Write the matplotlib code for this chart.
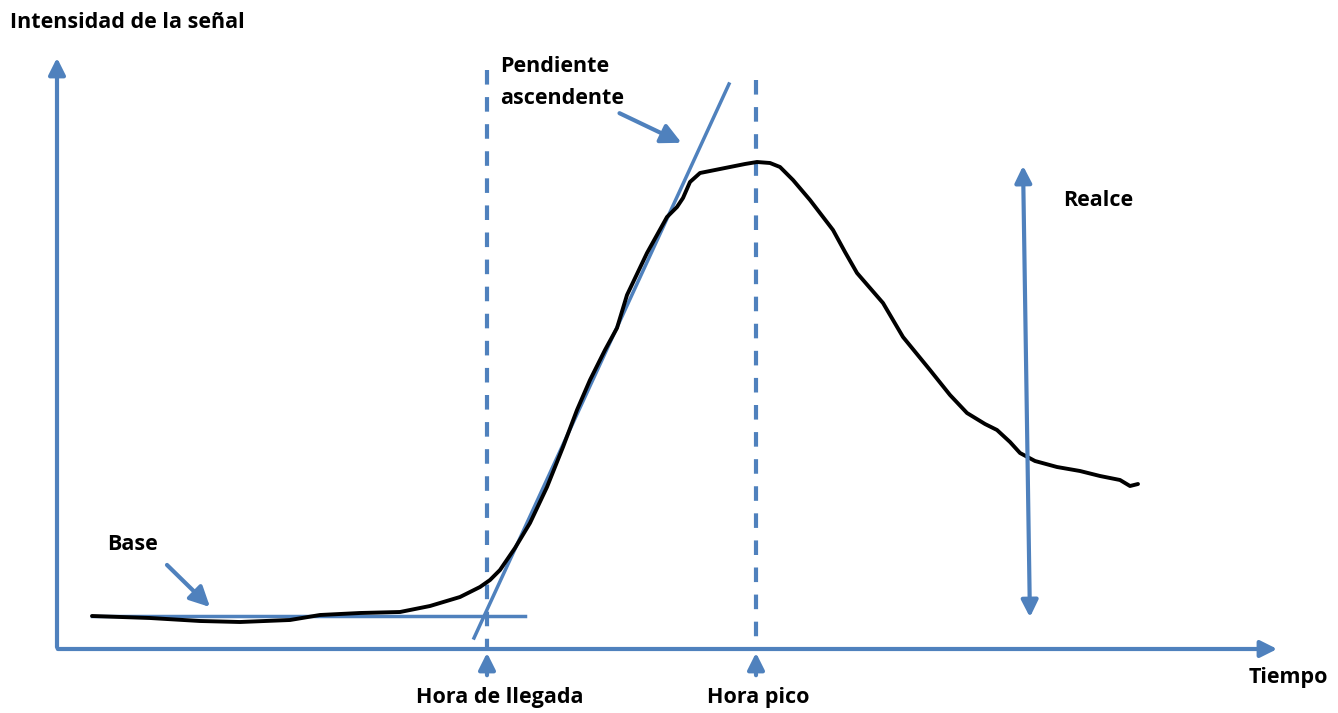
import numpy as np
import matplotlib.pyplot as plt

plt.rcParams['font.family'] = ['Open Sans', 'DejaVu Sans']

# curva de intensidad (coordenadas, en pixeles)
curvaX = [92, 150, 200, 240, 290, 320, 360, 400, 430, 460, 480, 490, 500, 515,
          530, 547, 563, 577, 590, 605, 617, 627, 647, 667, 677, 683, 690, 700,
          715, 730, 745, 757, 770, 780, 793, 810, 833, 845, 857, 870, 883, 903,
          930, 950, 967, 985, 997, 1010, 1020, 1035, 1057, 1080, 1100, 1120,
          1130, 1138]
curvaY = [616, 618, 621, 622, 620, 615, 613, 612, 606, 597, 587, 580, 570, 548,
          523, 487, 447, 410, 380, 350, 328, 295, 253, 217, 207, 198, 182, 173,
          170, 167, 164, 162, 163, 167, 180, 200, 230, 252, 273, 288, 303, 337,
          370, 395, 413, 424, 430, 442, 453, 461, 467, 471, 476, 480, 486, 484]

# lineas auxiliares
linaBase = ([92, 525], [616, 616])
pendiente = ([474, 729], [638, 84])
horaLlegada = 487
horaPico = 756

azul = '#4F81BD'

fig = plt.figure(figsize=(13.38, 7.13), dpi=100)
ax = fig.add_axes([0, 0, 1, 1])
ax.set_xlim(0, 1338)
ax.set_ylim(713, 0)
ax.axis('off')

flecha = dict(arrowstyle='-|>,head_width=0.5,head_length=1.0', color=azul, lw=3)

# ejes
ax.annotate('', xy=(57, 55), xytext=(57, 650), arrowprops=flecha)
ax.annotate('', xy=(1280, 649), xytext=(55, 649), arrowprops=flecha)

# lineas discontinuas
ax.plot([horaLlegada, horaLlegada], [70, 648], color=azul, lw=3, ls=(0, (3.5, 3)))
ax.plot([horaPico, horaPico], [80, 648], color=azul, lw=3, ls=(0, (3.5, 3)))

# flechas pequeñas bajo el eje
ax.annotate('', xy=(horaLlegada, 650), xytext=(horaLlegada, 678), arrowprops=flecha)
ax.annotate('', xy=(horaPico, 650), xytext=(horaPico, 678), arrowprops=flecha)

# base y pendiente
ax.plot(*linaBase, color=azul, lw=2.5)
ax.plot(*pendiente, color=azul, lw=2.5)

# curva
ax.plot(curvaX, curvaY, color='black', lw=2.8, solid_capstyle='round',
        solid_joinstyle='round')

# flechas de anotacion
ax.annotate('', xy=(212, 609), xytext=(165, 563),
            arrowprops=dict(arrowstyle='-|>,head_width=0.6,head_length=1.2',
                            color=azul, lw=3))
ax.annotate('', xy=(684, 144), xytext=(617, 112),
            arrowprops=dict(arrowstyle='-|>,head_width=0.6,head_length=1.2',
                            color=azul, lw=3))

# realce (doble flecha)
ax.annotate('', xy=(1023, 163), xytext=(1030, 620),
            arrowprops=dict(arrowstyle='<|-|>,head_width=0.5,head_length=1.0',
                            color=azul, lw=3))

# textos
txt = dict(fontsize=15.5, fontweight='bold', color='black')
ax.text(10, 22, 'Intensidad de la señal', va='center', ha='left', **txt)
ax.text(500, 66, 'Pendiente', va='center', ha='left', **txt)
ax.text(500, 99, 'ascendente', va='center', ha='left', **txt)
ax.text(1063, 200, 'Realce', va='center', ha='left', **txt)
ax.text(107, 545, 'Base', va='center', ha='left', **txt)
ax.text(500, 697, 'Hora de llegada', va='center', ha='center', **txt)
ax.text(758, 697, 'Hora pico', va='center', ha='center', **txt)
ax.text(1288, 677, 'Tiempo', va='center', ha='center', **txt)

fig.savefig('out.png', dpi=100)
